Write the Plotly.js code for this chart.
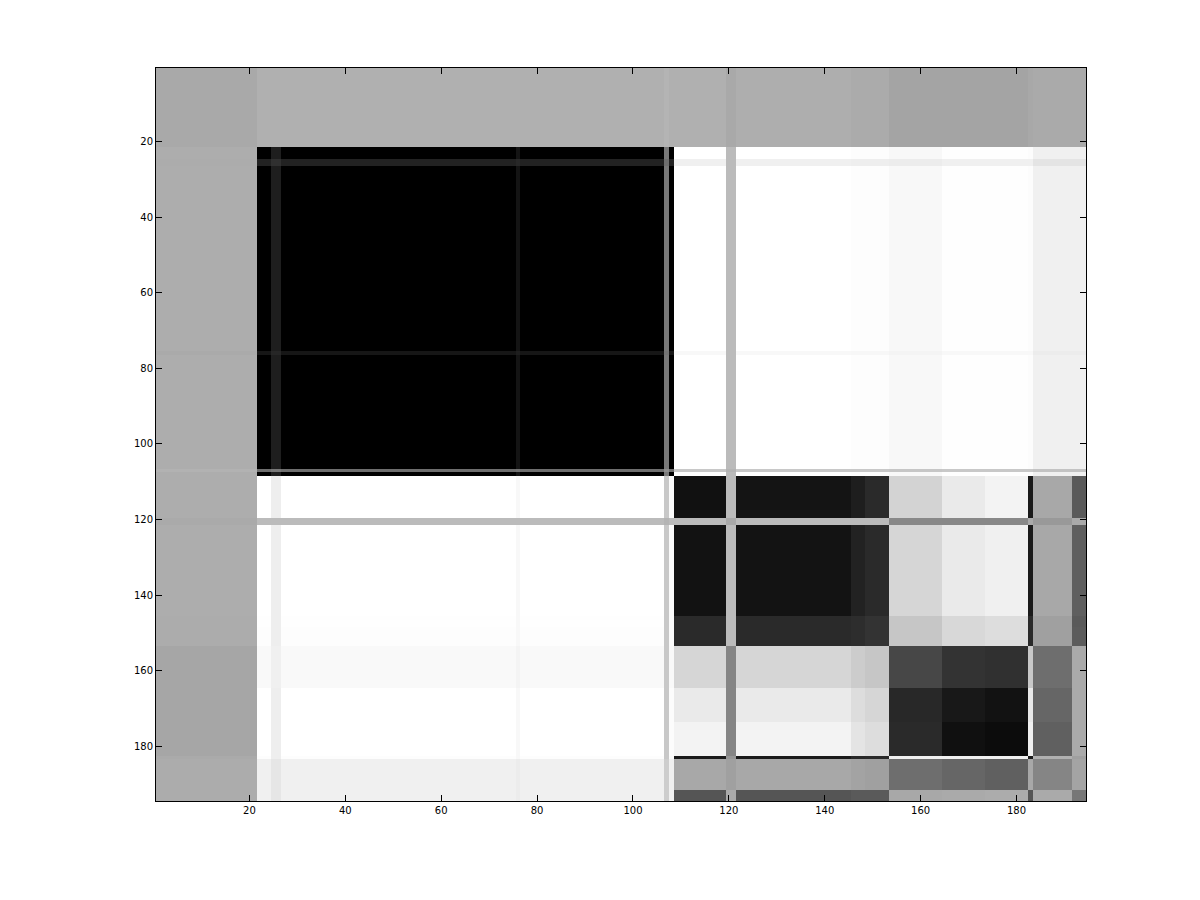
<!DOCTYPE html>
<html>
<head>
<meta charset="utf-8">
<script src="https://cdn.plot.ly/plotly-3.0.1.min.js"></script>
<style>html,body{margin:0;padding:0;background:#fff;}#chart{width:1200px;height:900px;}</style>
</head>
<body>
<div id="chart"></div>
<script>
// Matrix size (items 1..194); rows and columns share the same group partition
const nItems = 194;
// First index of each group (group ends where the next starts)
const groupStarts = [1, 22, 25, 27, 76, 77, 107, 108, 109, 120, 122, 146, 149, 154, 165, 174, 183, 184, 192];

// Gray level (0 = black, 255 = white) of each block, one array per row group,
// columns in the same group order as groupStarts
const rowBand = [169, 176, 176, 176, 176, 176, 180, 176, 176, 169, 174, 171, 171, 164, 164, 164, 168, 170, 170];
const rowA    = [173,   0,  30,   0,  20,   0, 120,   0, 255, 187, 255, 253, 253, 248, 254, 254, 252, 240, 240];
const rowS25  = [172,  34,  48,  34,  40,  34, 110,  34, 240, 187, 240, 238, 238, 236, 240, 240, 240, 228, 228];
const rowS76  = [170,  22,  38,  22,  30,  22, 115,  22, 248, 187, 248, 247, 247, 244, 248, 248, 248, 236, 236];
const rowS107 = [178, 110, 120, 110, 115, 110, 140, 110, 200, 180, 200, 200, 200, 198, 200, 200, 200, 195, 195];
const rowB1   = [173, 255, 238, 255, 248, 255, 200, 250,  17, 187,  20,  30,  42, 211, 234, 243,  26, 168,  90];
const rowS120 = [170, 187, 187, 187, 187, 187, 180, 187, 187, 168, 187, 187, 187, 136, 136, 136, 170, 153, 170];
const rowB3   = [173, 255, 238, 255, 248, 255, 200, 250,  18, 187,  19,  34,  42, 214, 234, 240,  26, 168,  95];
const rowB4   = [172, 254, 238, 254, 248, 254, 200, 250,  42, 187,  42,  45,  51, 198, 216, 221,  42, 160,  90];
const rowB5   = [172, 253, 238, 253, 248, 253, 200, 250,  42, 187,  42,  45,  51, 198, 216, 221,  42, 160,  92];
const rowC1   = [166, 249, 240, 249, 244, 249, 200, 249, 214, 133, 214, 204, 198,  71,  51,  48, 200, 110, 170];
const rowC2   = [166, 255, 238, 255, 248, 255, 200, 252, 234, 133, 234, 221, 214,  40,  24,  18, 232, 102, 170];
const rowC3   = [166, 255, 238, 255, 248, 255, 200, 252, 243, 133, 243, 228, 221,  42,  16,  12, 240,  96, 170];
const rowS183 = [170, 253, 238, 253, 248, 253, 200, 250,  26, 150,  26,  40,  42, 240, 240, 240,  26, 176, 160];
const rowD1   = [172, 240, 230, 240, 236, 240, 205, 240, 168, 160, 168, 163, 160, 110, 102,  96, 168, 133, 164];
const rowD2   = [172, 240, 230, 240, 236, 240, 205, 240,  85, 170,  85,  90,  90, 168, 170, 172,  85, 170, 119];

const blockRows = [rowBand, rowA, rowS25, rowA, rowS76, rowA, rowS107, rowA,
                   rowB1, rowS120, rowB3, rowB4, rowB5, rowC1, rowC2, rowC3, rowS183, rowD1, rowD2];

const tickValues = [20, 40, 60, 80, 100, 120, 140, 160, 180];
const tickLabels = ['20', '40', '60', '80', '100', '120', '140', '160', '180'];

// Build the full matrix from the block table
function groupOf(i) {
  let g = 0;
  for (let k = 0; k < groupStarts.length; k++) if (i >= groupStarts[k]) g = k;
  return g;
}
const idx = [];
for (let i = 1; i <= nItems; i++) idx.push(i);
const z = idx.map(r => idx.map(c => blockRows[groupOf(r)][groupOf(c)]));

const trace = {
  type: 'heatmap',
  x: idx, y: idx, z: z,
  zmin: 0, zmax: 255,
  colorscale: [[0, 'rgb(0,0,0)'], [1, 'rgb(255,255,255)']],
  showscale: false,
  zsmooth: false,
  hoverinfo: 'x+y+z'
};

const axisCommon = {
  tickvals: tickValues, ticktext: tickLabels,
  ticks: 'inside', ticklen: 6, tickwidth: 1, tickcolor: '#000',
  showline: true, linecolor: '#000', linewidth: 1, mirror: 'ticks',
  showgrid: false, zeroline: false,
  tickfont: {family: 'DejaVu Sans, sans-serif', size: 10, color: '#000'}
};

const layout = {
  width: 1200, height: 900,
  margin: {l: 156, r: 114, t: 68, b: 99, pad: 0},
  paper_bgcolor: '#fff', plot_bgcolor: '#fff',
  xaxis: Object.assign({}, axisCommon, {range: [0.5, 194.5]}),
  yaxis: Object.assign({}, axisCommon, {range: [194.5, 0.5]}),
  showlegend: false
};

Plotly.newPlot('chart', [trace], layout, {displayModeBar: false, staticPlot: true});
</script>
</body>
</html>
